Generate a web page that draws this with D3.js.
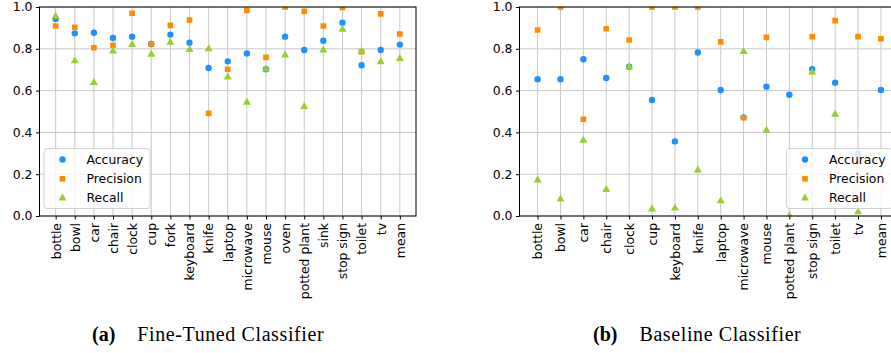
<!DOCTYPE html>
<html>
<head>
<meta charset="utf-8">
<script src="https://cdn.jsdelivr.net/npm/d3@7"></script>
<style>
body{margin:0;background:#fff;}
svg{display:block;}
</style>
</head>
<body>
<div id="chart"></div>
<script>
// (a) fine-tuned classifier
var catsA = ["bottle","bowl","car","chair","clock","cup","fork","keyboard","knife","laptop",
             "microwave","mouse","oven","potted plant","sink","stop sign","toilet","tv","mean"];
var accA  = [0.943,0.874,0.877,0.852,0.858,0.823,0.868,0.829,0.708,0.740,0.778,0.702,0.858,0.794,0.839,0.925,0.721,0.794,0.820];
var precA = [0.909,0.903,0.805,0.817,0.970,0.823,0.912,0.938,0.491,0.702,0.984,0.759,1.000,0.979,0.909,0.998,0.786,0.967,0.871];
var recA  = [0.955,0.742,0.638,0.789,0.820,0.773,0.831,0.796,0.799,0.664,0.544,0.702,0.770,0.523,0.793,0.893,0.788,0.737,0.753];

// (b) baseline classifier
var catsB = ["bottle","bowl","car","chair","clock","cup","keyboard","knife","laptop","microwave",
             "mouse","potted plant","stop sign","toilet","tv","mean"];
var accB  = [0.654,0.654,0.750,0.660,0.714,0.555,0.357,0.782,0.603,0.472,0.619,0.580,0.703,0.638,0.297,0.603];
var precB = [0.890,1.000,0.463,0.896,0.842,1.000,1.000,1.000,0.833,0.470,0.855,null,0.858,0.935,0.858,0.848];
var recB  = [0.171,0.081,0.362,0.126,0.714,0.033,0.037,0.219,0.072,0.786,0.410,0.000,0.687,0.486,0.019,null];

var yTicks = [0,0.2,0.4,0.6,0.8,1.0];
var seriesNames = ["Accuracy","Precision","Recall"];
var colors = ["#1e90ff","#ff8c00","#9acd32"];
var shapes = [d3.symbolCircle, d3.symbolSquare, d3.symbolTriangle];
var sizes = [32, 32, 28];

var W = 891, H = 353;
var plotTop = 7, plotBottom = 216;
var font = "'DejaVu Sans', sans-serif";

var svg = d3.select("#chart").append("svg")
	.attr("width", W)
	.attr("height", H);

var yScale = d3.scaleLinear()
	.domain([0, 1])
	.range([plotBottom, plotTop]);

function draw(id, cats, data, x0, x1, pad, legendX, tag, title, capX, capGap){
	var xScale = d3.scalePoint()
		.domain(cats)
		.range([x0, x1])
		.padding(pad);

	var g = svg.append("g");

	g.append("clipPath").attr("id", "clip"+id)
		.append("rect")
		.attr("x", x0).attr("y", plotTop)
		.attr("width", x1-x0).attr("height", plotBottom-plotTop);

	// grid
	g.selectAll(".vgrid").data(cats).enter().append("line")
		.attr("x1", function(d){ return xScale(d); })
		.attr("x2", function(d){ return xScale(d); })
		.attr("y1", plotTop).attr("y2", plotBottom)
		.style("stroke", "#c8c8c8").style("stroke-width", 1);
	g.selectAll(".hgrid").data(yTicks).enter().append("line")
		.attr("x1", x0).attr("x2", x1)
		.attr("y1", function(d){ return yScale(d); })
		.attr("y2", function(d){ return yScale(d); })
		.style("stroke", "#c8c8c8").style("stroke-width", 1);

	// markers
	var pts = g.append("g").attr("clip-path", "url(#clip"+id+")");
	data.forEach(function(vals, s){
		var list = cats.map(function(c, i){ return {c:c, v:vals[i]}; })
			.filter(function(d){ return d.v != null; });
		pts.selectAll(".m"+s).data(list).enter().append("path")
			.attr("d", d3.symbol().type(shapes[s]).size(sizes[s]))
			.attr("transform", function(d){ return "translate("+xScale(d.c)+","+yScale(d.v)+")"; })
			.attr("fill", colors[s]);
	});

	// frame
	g.append("rect")
		.attr("x", x0).attr("y", plotTop)
		.attr("width", x1-x0).attr("height", plotBottom-plotTop)
		.attr("fill", "none")
		.attr("stroke", "#000").attr("stroke-width", 1);

	// axes
	var yAxis = g.append("g")
		.attr("transform", "translate("+x0+",0)")
		.call(d3.axisLeft(yScale).tickValues(yTicks).tickFormat(d3.format(".1f")).tickSize(3.5).tickPadding(3.5));
	yAxis.select(".domain").remove();
	yAxis.selectAll("text").style("font-family", font).style("font-size", "12.4px").attr("fill", "#000");

	var xAxis = g.append("g")
		.attr("transform", "translate(0,"+plotBottom+")")
		.call(d3.axisBottom(xScale).tickSize(3.5));
	xAxis.select(".domain").remove();
	xAxis.selectAll("text")
		.attr("transform", "rotate(-90)")
		.attr("x", -7).attr("y", 0).attr("dy", "0.35em")
		.style("text-anchor", "end")
		.style("font-family", font).style("font-size", "12.4px").attr("fill", "#000");

	// legend
	var lg = g.append("g").attr("transform", "translate("+legendX+",148.5)");
	lg.append("rect")
		.attr("width", 106).attr("height", 60).attr("rx", 3)
		.attr("fill", "#fff").attr("fill-opacity", 0.8)
		.attr("stroke", "#d0d0d0").attr("stroke-width", 1);
	seriesNames.forEach(function(name, s){
		var yy = 11 + s*19.3;
		lg.append("path")
			.attr("d", d3.symbol().type(shapes[s]).size(sizes[s]))
			.attr("transform", "translate(18.5,"+yy+")")
			.attr("fill", colors[s]);
		lg.append("text")
			.text(name)
			.attr("x", 42.5).attr("y", yy).attr("dy", "0.35em")
			.style("font-family", font).style("font-size", "12.4px");
	});

	// caption
	var cap = svg.append("text")
		.attr("x", capX).attr("y", 341)
		.style("font-family", "'Liberation Serif', serif").style("font-size", "20px");
	cap.append("tspan").text(tag).style("font-weight", "bold");
	cap.append("tspan").attr("dx", capGap).text(title).style("letter-spacing", "0.6px");
}

draw("A", catsA, [accA, precA, recA], 39.5, 416, 0.845, 44, "(a)", "Fine-Tuned Classifier", 92, 22);
draw("B", catsB, [accB, precB, recB], 519.5, 899, 0.79, 786.5, "(b)", "Baseline Classifier", 593, 22);
</script>
</body>
</html>
